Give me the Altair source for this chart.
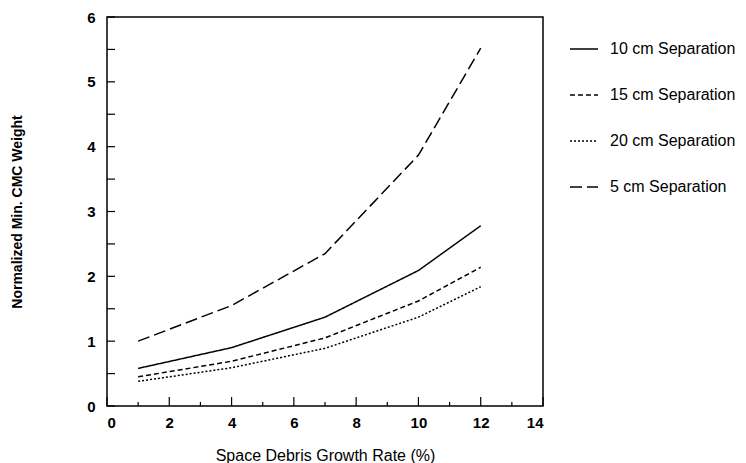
import altair as alt
import pandas as pd

growth = [1, 4, 7, 10, 12]
sep_10 = [0.58, 0.90, 1.37, 2.09, 2.78]
sep_15 = [0.45, 0.69, 1.05, 1.62, 2.14]
sep_20 = [0.38, 0.59, 0.89, 1.37, 1.84]
sep_5 = [1.00, 1.55, 2.35, 3.87, 5.52]
series = ["10 cm Separation", "15 cm Separation", "20 cm Separation", "5 cm Separation"]
x_ticks = list(range(0, 15))
y_ticks = [i * 0.5 for i in range(0, 13)]

rows = []
for name, vals in zip(series, [sep_10, sep_15, sep_20, sep_5]):
    for g, v in zip(growth, vals):
        rows.append({"x": g, "y": v, "series": name})
df = pd.DataFrame(rows)

W, H = 436, 389
xs = alt.Scale(domain=[0, 14], nice=False)
ys = alt.Scale(domain=[0, 6], nice=False)

lines = alt.Chart(df).mark_line(color="black", strokeWidth=1.5).encode(
    x=alt.X("x:Q", scale=xs, title="Space Debris Growth Rate (%)",
            axis=alt.Axis(values=list(range(0, 15, 2)), format="d", tickSize=0, labelPadding=9,
                          titlePadding=17, domain=False, grid=False)),
    y=alt.Y("y:Q", scale=ys, title="Normalized Min. CMC Weight",
            axis=alt.Axis(values=list(range(0, 7)), format="d", tickSize=0, labelPadding=12,
                          titlePadding=62, domain=False, grid=False)),
    strokeDash=alt.StrokeDash("series:N", sort=series,
        scale=alt.Scale(domain=series, range=[[1, 0], [5, 3], [2, 2], [12, 5]]),
        legend=alt.Legend(title=None, orient="none", legendX=462, legendY=17,
                          symbolType="stroke", symbolSize=784, symbolStrokeWidth=1.5,
                          symbolStrokeColor="black", rowPadding=23, labelOffset=11,
                          labelFontSize=16, labelFont="Liberation Sans", labelColor="black",
                          labelLimit=200)),
)

xt = pd.DataFrame({"t": x_ticks, "len": [9 if t % 2 == 0 else 4 for t in x_ticks]})
xtick_major = alt.Chart(xt[xt["len"] == 9]).mark_rule(color="black", strokeWidth=1.2).encode(
    x=alt.X("t:Q", scale=xs), y=alt.value(H), y2=alt.value(H - 9))
xtick_minor = alt.Chart(xt[xt["len"] == 4]).mark_rule(color="black", strokeWidth=1.2).encode(
    x=alt.X("t:Q", scale=xs), y=alt.value(H), y2=alt.value(H - 4))
yt = pd.DataFrame({"t": y_ticks})
ytick = alt.Chart(yt).mark_rule(color="black", strokeWidth=1.2).encode(
    y=alt.Y("t:Q", scale=ys), x=alt.value(0), x2=alt.value(8))

chart = alt.layer(xtick_major, xtick_minor, ytick, lines).properties(
    width=W, height=H,
    autosize=alt.AutoSizeParams(type="none"),
    padding={"left": 99, "top": 9, "right": 195, "bottom": 57},
).configure_view(stroke="black", strokeWidth=1.5).configure_axis(
    labelFont="Liberation Sans", titleFont="Liberation Sans",
    labelFontSize=15, labelFontWeight="bold", titleFontSize=16, titleFontWeight="normal",
    labelColor="black", titleColor="black",
).configure_axisY(titleFontWeight="bold", titleFontSize=14)

chart.save("out.html", embed_options={"renderer": "svg", "actions": False})
